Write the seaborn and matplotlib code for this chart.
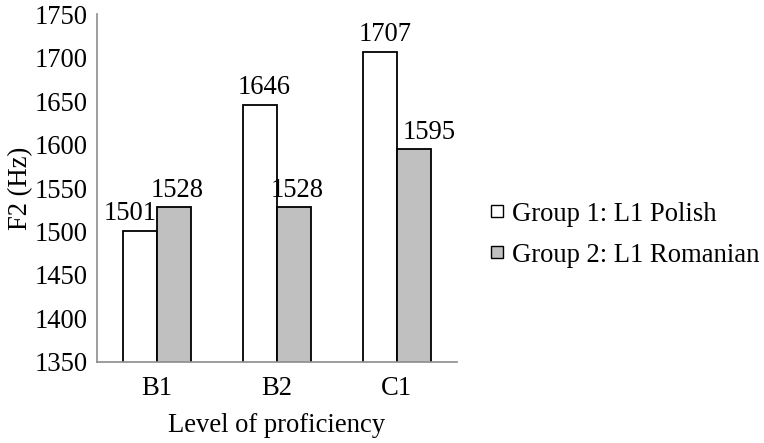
import matplotlib
matplotlib.use("Agg")
import matplotlib.pyplot as plt
from matplotlib.lines import Line2D
import seaborn as sns
import pandas as pd

levels = ["B1", "B2", "C1"]
groups = ["Group 1: L1 Polish", "Group 2: L1 Romanian"]
polish = [1501, 1646, 1707]
romanian = [1528, 1528, 1595]
yticks = [1350, 1400, 1450, 1500, 1550, 1600, 1650, 1700, 1750]

df = pd.DataFrame({
    "level": levels * 2,
    "group": [groups[0]] * 3 + [groups[1]] * 3,
    "F2": polish + romanian,
})

sns.set_theme(style="white")
plt.rcParams["font.family"] = ["Liberation Serif", "DejaVu Serif"]
plt.rcParams["text.color"] = "black"
plt.rcParams["axes.labelcolor"] = "black"
plt.rcParams["xtick.labelcolor"] = "black"
plt.rcParams["ytick.labelcolor"] = "black"

colors = ["#ffffff", "#c0c0c0"]
fig = plt.figure(figsize=(7.64, 4.43), dpi=100)
ax = fig.add_axes([0.127, 0.183, 0.471, 0.785])

sns.barplot(data=df, x="level", y="F2", hue="group", hue_order=groups,
            palette=colors, width=0.57, gap=0, edgecolor="black",
            linewidth=1.3, ax=ax, legend=False)

fs = 19.2
# horizontal nudges (points) so neighbouring value labels do not collide
nudges = [[-7, 3, 4], [2, 2, 11]]
for cont, dx in zip(ax.containers, nudges):
    labels = ax.bar_label(cont, fmt="%d", padding=3, fontsize=fs, color="black")
    for t, d in zip(labels, dx):
        x0, y0 = t.xyann
        t.xyann = (x0 + d, y0)

ax.set_ylim(1350, 1750)
ax.set_yticks(yticks)
ax.set_yticklabels([str(t) for t in yticks], fontsize=fs)
ax.set_xlim(-0.5, 2.5)
ax.set_xticks(range(len(levels)))
ax.set_xticklabels(levels, fontsize=fs)
ax.set_xticks([-0.5, 0.5, 1.5, 2.5], minor=True)
ax.tick_params(axis="x", which="major", length=0, pad=10)
ax.tick_params(axis="x", which="minor", length=5, color="#8c8c8c", width=1.2, direction="out")
ax.tick_params(axis="y", length=5, color="#8c8c8c", width=1.2, direction="out", pad=2)

for side in ["top", "right"]:
    ax.spines[side].set_visible(False)
for side in ["left", "bottom"]:
    ax.spines[side].set_color("#8c8c8c")
    ax.spines[side].set_linewidth(1.2)

ax.set_xlabel("Level of proficiency", fontsize=fs, labelpad=9)
ax.set_ylabel("F2 (Hz)", fontsize=fs, labelpad=1)

handles = [Line2D([0], [0], marker="s", linestyle="none", markersize=8,
                  markerfacecolor=c, markeredgecolor="black", markeredgewidth=1.0)
           for c in colors]
fig.legend(handles, groups, loc="center left", bbox_to_anchor=(0.628, 0.47),
           frameon=False, fontsize=fs, handlelength=0.5, handletextpad=0.3,
           labelspacing=0.6, borderaxespad=0)

fig.savefig("out.png", dpi=100)
